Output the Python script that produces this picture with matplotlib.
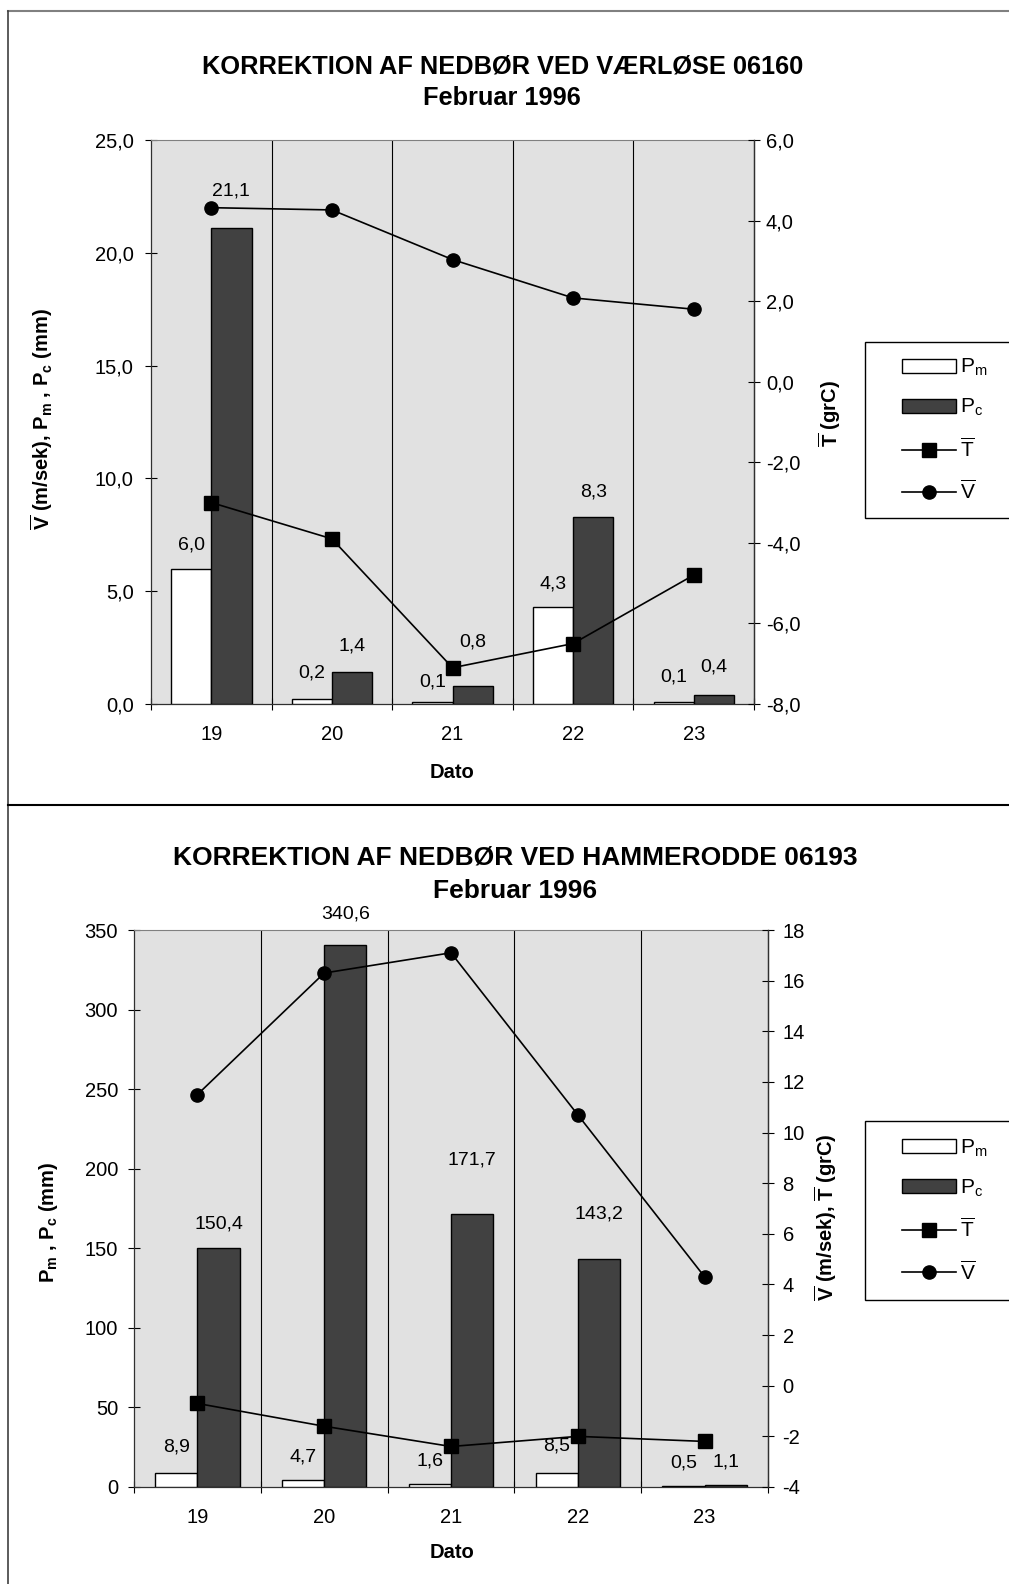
import matplotlib
matplotlib.use("Agg")
import matplotlib.pyplot as plt
from matplotlib.lines import Line2D
from matplotlib.patches import Patch, Rectangle
from matplotlib.ticker import FixedLocator, FuncFormatter

plt.rcParams["font.family"] = ["Liberation Sans", "DejaVu Sans"]
plt.rcParams["mathtext.fontset"] = "custom"
plt.rcParams["mathtext.rm"] = "Liberation Sans"
plt.rcParams["mathtext.it"] = "Liberation Sans:italic"
plt.rcParams["mathtext.bf"] = "Liberation Sans:bold"
plt.rcParams["axes.unicode_minus"] = False

days = ["19", "20", "21", "22", "23"]

# Værløse 06160
vaer_pm = [6.0, 0.2, 0.1, 4.3, 0.1]
vaer_pc = [21.1, 1.4, 0.8, 8.3, 0.4]
vaer_t = [-3.0, -3.9, -7.1, -6.5, -4.8]
vaer_v = [22.0, 21.9, 19.7, 18.0, 17.5]

# Hammerodde 06193
ham_pm = [8.9, 4.7, 1.6, 8.5, 0.5]
ham_pc = [150.4, 340.6, 171.7, 143.2, 1.1]
ham_t = [-0.7, -1.6, -2.4, -2.0, -2.2]
ham_v = [11.5, 16.3, 17.1, 10.7, 4.3]

# label lift above bar top, pixels (labels were hand-moved in the original)
vaer_pm_lift = [24, 26, 20, 23, 25]
vaer_pc_lift = [37, 26, 44, 25, 28]
ham_pm_lift = [26, 23, 23, 27, 23]
ham_pc_lift = [24, 31, 54, 45, 23]

W, H = 1009, 1584
BG = "#e1e1e1"
DARK = "#414141"
TICK_FS = 14.5
LABEL_FS = 14
AXLABEL_FS = 14.5


def fx(x):
    return x / W


def fy(y):
    return 1 - y / H


def comma(fmt):
    return FuncFormatter(lambda v, _: fmt.format(v).replace(".", ","))


def draw_panel(fig, box, pm, pc, t, v, pm_lift, pc_lift,
               left_lim, left_step, left_fmt, right_lim, right_fmt,
               v_on_right, left_pad, right_pad):
    l, t_px, r, b = box
    ax = fig.add_axes([fx(l), fy(b), fx(r - l), (b - t_px) / H])
    ax2 = ax.twinx()
    ax.set_facecolor(BG)
    ax.set_zorder(1)
    ax2.set_zorder(2)
    ax2.patch.set_visible(False)

    x = list(range(len(days)))
    w = 1 / 3
    ax.bar([i - w / 2 for i in x], pm, width=w, color="white",
           edgecolor="black", linewidth=1.0, zorder=3)
    ax.bar([i + w / 2 for i in x], pc, width=w, color=DARK,
           edgecolor="black", linewidth=1.0, zorder=3)

    for i in x:
        ax.annotate(f"{pm[i]:.1f}".replace(".", ","), (i - w / 2, pm[i]),
                    xytext=(0, pm_lift[i]), textcoords="offset pixels",
                    ha="center", va="center", fontsize=LABEL_FS, zorder=5)
        ax.annotate(f"{pc[i]:.1f}".replace(".", ","), (i + w / 2, pc[i]),
                    xytext=(0, pc_lift[i]), textcoords="offset pixels",
                    ha="center", va="center", fontsize=LABEL_FS, zorder=5)

    for gx in [0.5, 1.5, 2.5, 3.5]:
        ax.axvline(gx, color="black", linewidth=0.8, zorder=2)

    line_kw = dict(color="black", linewidth=1.2, markersize=9.5, zorder=6)
    ax2.plot(x, t, marker="s", **line_kw)
    (ax2 if v_on_right else ax).plot(x, v, marker="o", **line_kw)

    ax.set_xlim(-0.5, len(days) - 0.5)
    ax.set_ylim(*left_lim)
    ax2.set_ylim(*right_lim)

    ax.set_xticks(x)
    ax.set_xticklabels(days)
    ax.xaxis.set_minor_locator(FixedLocator([i - 0.5 for i in range(len(days) + 1)]))
    ax.tick_params(axis="x", which="major", length=0, pad=15, labelsize=TICK_FS)
    ax.tick_params(axis="x", which="minor", direction="inout", length=9, width=0.8)

    ax.set_yticks([left_lim[0] + k * left_step
                   for k in range(int(round((left_lim[1] - left_lim[0]) / left_step)) + 1)])
    ax.yaxis.set_major_formatter(comma(left_fmt))
    ax.tick_params(axis="y", direction="inout", length=9, width=0.8,
                   labelsize=TICK_FS, pad=left_pad)

    ax2.set_yticks([right_lim[0] + k * 2
                    for k in range(int((right_lim[1] - right_lim[0]) / 2) + 1)])
    ax2.yaxis.set_major_formatter(comma(right_fmt))
    ax2.tick_params(axis="y", direction="inout", length=9, width=0.8,
                    labelsize=TICK_FS, pad=right_pad)

    ax.spines["top"].set_color("#808080")
    for s in ["left", "bottom", "right"]:
        ax.spines[s].set_color("#303030")
        ax.spines[s].set_linewidth(0.9)
    for s in ["top", "left", "bottom"]:
        ax2.spines[s].set_visible(False)
    ax2.spines["right"].set_color("#303030")
    ax2.spines["right"].set_linewidth(0.9)
    return ax, ax2


def add_legend(fig, top, bottom):
    fig.add_artist(Rectangle((fx(865), fy(bottom)), fx(1009 - 865) + 0.01,
                             (bottom - top) / H, transform=fig.transFigure,
                             facecolor="white", edgecolor="black",
                             linewidth=1.0, zorder=1))
    handles = [
        Patch(facecolor="white", edgecolor="black", linewidth=1.0),
        Patch(facecolor=DARK, edgecolor="black", linewidth=1.0),
        Line2D([], [], color="black", linewidth=1.2, marker="s", markersize=9.5),
        Line2D([], [], color="black", linewidth=1.2, marker="o", markersize=9.5),
    ]
    labels = [r"$\mathregular{P_m}$", r"$\mathregular{P_c}$",
              r"$\overline{\mathregular{T}}$", r"$\overline{\mathregular{V}}$"]
    leg = fig.legend(handles, labels, loc="center left",
                     bbox_to_anchor=(fx(902), fy((top + bottom) / 2)),
                     frameon=False, fontsize=15, borderpad=0, borderaxespad=0,
                     handlelength=2.6, handleheight=0.65, handletextpad=0.2,
                     labelspacing=0.9)
    leg.set_zorder(3)


fig = plt.figure(figsize=(W / 100, H / 100), dpi=100)

# outer frame lines
fig.add_artist(Line2D([fx(8), 1], [fy(11), fy(11)], transform=fig.transFigure,
                      color="#808080", linewidth=1.5))
fig.add_artist(Line2D([fx(8), fx(8)], [fy(11), 0], transform=fig.transFigure,
                      color="#404040", linewidth=1.2))
fig.add_artist(Line2D([fx(8), 1], [fy(805), fy(805)], transform=fig.transFigure,
                      color="black", linewidth=1.5))

# top panel: Værløse
draw_panel(fig, (151, 140, 754, 704), vaer_pm, vaer_pc, vaer_t, vaer_v,
           vaer_pm_lift, vaer_pc_lift, (0, 25), 5, "{:.1f}", (-8, 6), "{:.1f}",
           v_on_right=False, left_pad=8, right_pad=4)
fig.text(fx(503), fy(66), "KORREKTION AF NEDBØR VED VÆRLØSE 06160",
         ha="center", va="center", fontsize=18.3, fontweight="bold")
fig.text(fx(502), fy(98), "Februar 1996", ha="center", va="center",
         fontsize=18.3, fontweight="bold")
fig.text(fx(452), fy(773), "Dato", ha="center", va="center",
         fontsize=AXLABEL_FS, fontweight="bold")
fig.text(fx(42), fy(419),
         r"$\overline{\mathbf{V}}$ (m/sek), $\mathbf{P_m}$ , $\mathbf{P_c}$ (mm)",
         rotation=90, ha="center", va="center", fontsize=AXLABEL_FS, fontweight="bold")
fig.text(fx(830), fy(414), r"$\overline{\mathbf{T}}$ (grC)",
         rotation=90, ha="center", va="center", fontsize=AXLABEL_FS, fontweight="bold")
add_legend(fig, 342, 518)

# bottom panel: Hammerodde
draw_panel(fig, (134, 930, 768, 1487), ham_pm, ham_pc, ham_t, ham_v,
           ham_pm_lift, ham_pc_lift, (0, 350), 50, "{:.0f}", (-4, 18), "{:.0f}",
           v_on_right=True, left_pad=7, right_pad=6)
fig.text(fx(515), fy(858), "KORREKTION AF NEDBØR VED HAMMERODDE 06193",
         ha="center", va="center", fontsize=19, fontweight="bold")
fig.text(fx(515), fy(891), "Februar 1996", ha="center", va="center",
         fontsize=19, fontweight="bold")
fig.text(fx(452), fy(1552), "Dato", ha="center", va="center",
         fontsize=AXLABEL_FS, fontweight="bold")
fig.text(fx(48), fy(1222), r"$\mathbf{P_m}$ , $\mathbf{P_c}$ (mm)",
         rotation=90, ha="center", va="center", fontsize=AXLABEL_FS, fontweight="bold")
fig.text(fx(826), fy(1217),
         r"$\overline{\mathbf{V}}$ (m/sek), $\overline{\mathbf{T}}$ (grC)",
         rotation=90, ha="center", va="center", fontsize=AXLABEL_FS, fontweight="bold")
add_legend(fig, 1121, 1300)

fig.savefig("out.png", dpi=100)
plt.close(fig)
